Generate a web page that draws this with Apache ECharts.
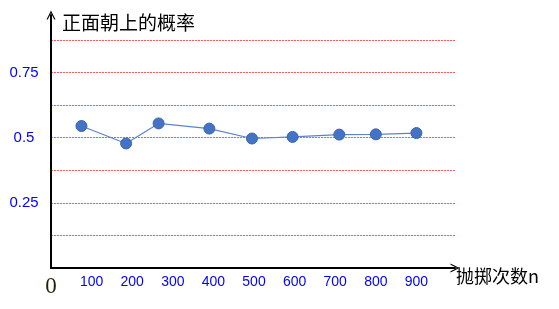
<!DOCTYPE html>
<html>
<head>
<meta charset="utf-8">
<script src="https://cdn.jsdelivr.net/npm/echarts@6/dist/echarts.min.js"></script>
<style>html,body{margin:0;padding:0;background:#fff;}#c{width:559px;height:309px;}</style>
</head>
<body>
<div id="c"></div>
<script>
var throwCounts = [75, 185, 265, 390, 495, 595, 710, 800, 900];
var headsRate = [0.545, 0.478, 0.555, 0.535, 0.497, 0.503, 0.512, 0.513, 0.518];
var yTickLabels = ['0.25', '0.5', '0.75'];
var xTickLabels = ['100', '200', '300', '400', '500', '600', '700', '800', '900'];
var yTitle = '正面朝上的概率';
var xTitle = '抛掷次数n';

var chart = echarts.init(document.getElementById('c'), null, {renderer: 'canvas'});
var arrow = 'path://M0,10 L5,0 L10,10 L8.6,10 L5,2.8 L1.4,10 Z';
chart.setOption({
  animation: false,
  grid: {left: 51, top: 15, right: 104, bottom: 41},
  xAxis: {
    type: 'value', min: 0, max: 995, interval: 100,
    axisLine: {show: true, symbol: ['none', arrow], symbolSize: [9, 12], symbolOffset: [0, 0],
      lineStyle: {color: '#000', width: 2}},
    axisTick: {show: false},
    splitLine: {show: false},
    axisLabel: {
      margin: 7, fontSize: 14, color: '#0000ff', fontFamily: 'Liberation Sans',
      formatter: function (v) {
        if (v === 0) return '{z|0}';
        var s = String(v);
        return xTickLabels.indexOf(s) >= 0 ? s : '';
      },
      rich: {z: {fontFamily: 'Liberation Serif', fontSize: 23, color: '#2a1e0a'}}
    }
  },
  yAxis: {
    type: 'value', min: 0, max: 0.971, interval: 0.125,
    axisLine: {show: true, symbol: ['none', arrow], symbolSize: [9, 12],
      lineStyle: {color: '#000', width: 2}},
    axisTick: {show: false},
    splitLine: {show: true, showMinLine: false, showMaxLine: false,
      lineStyle: {color: '#ff5a5a', width: 1, type: [2, 1]}},
    axisLabel: {
      margin: 27, align: 'center', fontSize: 15, color: '#0000ff', fontFamily: 'Liberation Sans',
      formatter: function (v) {
        var s = String(v);
        return yTickLabels.indexOf(s) >= 0 ? s : '';
      }
    }
  },
  graphic: [
    {type: 'text', left: 62, top: 13, style: {text: yTitle, fontSize: 19, fill: '#000', fontFamily: 'Noto Sans CJK SC'}},
    {type: 'text', left: 456, top: 267, style: {text: xTitle, fontSize: 18, fill: '#000', fontFamily: 'Noto Sans CJK SC'}}
  ],
  series: [{
    type: 'line',
    data: throwCounts.map(function (x, i) { return [x, headsRate[i]]; }),
    symbol: 'circle', symbolSize: 11,
    itemStyle: {color: '#4472c4', borderColor: '#3a64b0', borderWidth: 1},
    lineStyle: {color: '#5b84cc', width: 1.2}
  }]
});
</script>
</body>
</html>
